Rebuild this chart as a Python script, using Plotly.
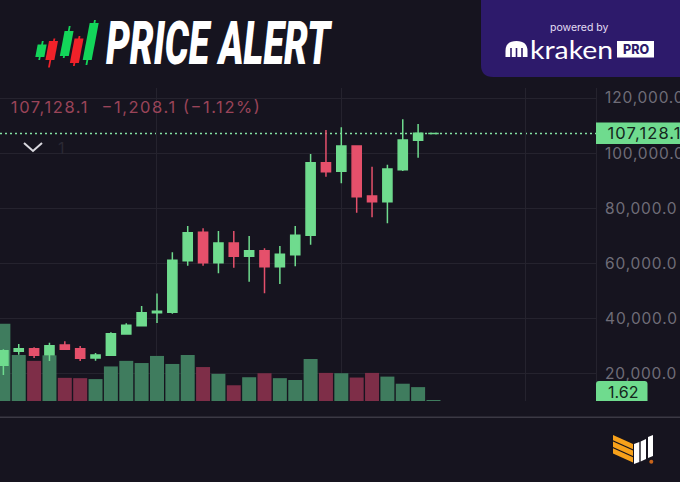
import plotly.graph_objects as go

W, H = 680, 482
BG = "#16141F"
GREEN = "#6FDB8E"
RED = "#E5506B"
VGREEN = "#3F7C5E"
VRED = "#7E2E48"
GRID = "#25232E"

# Candles (price), oldest first
opens = [22970, 28050, 29000, 26820, 30340, 29000, 25620, 26600, 34330, 37345, 42060, 42210, 60940, 71250, 60210,
         67365, 62540, 64570, 58760, 63120, 70160, 96510, 93390, 102580, 84420, 82360, 93970, 104645, 107100]
closes = [28270, 28996, 26600, 30085, 28780, 25510, 26710, 34440, 37490, 42060, 42570, 61085, 71100, 60210, 67365,
          62540, 64570, 58760, 63260, 70160, 96510, 93250, 102580, 84170, 82360, 94230, 104750, 107190, 107128.1]
highs = [28780, 30700, 29500, 31170, 31680, 29980, 27435, 34950, 38216, 44500, 49030, 63990, 73540, 72700, 71720,
         71720, 69900, 65440, 66280, 73540, 99670, 108380, 109360, 102690, 95060, 95790, 112270, 110560, 107128.1]
lows = [19450, 26820, 25620, 24530, 28700, 24530, 24640, 26350, 34080, 37240, 38325, 41700, 59125, 59125, 56366,
        58400, 53320, 49100, 52480, 58900, 66750, 91430, 89040, 78360, 76690, 74520, 93500, 98330, 107100]
volumes = [125, 74.5, 65, 74, 37.5, 37, 35.5, 56, 65, 61.5, 73, 60, 74.5, 55, 44, 25.5, 38.5, 45, 37, 34, 68,
           45.5, 45, 38, 45.5, 39.5, 28, 22.5, 1.62]
vol_up = [1, 1, 0, 1, 0, 0, 1, 1, 1, 1, 1, 1, 1, 0, 1, 0, 1, 0, 1, 1, 1, 0, 1, 0, 0, 1, 1, 1, 1]
candle_index = list(range(len(opens)))
price_ticks = [20000, 40000, 60000, 80000, 100000, 120000]
time_ticks = [10, 22, 34]
last_price = 107128.1
last_volume = 1.62
TITLE = "PRICE ALERT"
QUOTE = "107,128.1\u00a0\u00a0−1,208.1 (−1.12%)"
BRAND = "kraken"
PRICE_TAG = f"{last_price:,.1f}"
VOLUME_TAG = f"{last_volume:.2f}"


def fx(x):
    return x / W


def fy(y):
    return 1 - y / H


def poly(points, color):
    d = "M" + " L".join(f"{fx(x):.5f},{fy(y):.5f}" for x, y in points) + " Z"
    return dict(type="path", xref="paper", yref="paper", path=d, fillcolor=color, line=dict(width=0), layer="above")


def rect(x0, y0, x1, y1, color):
    return poly([(x0, y0), (x1, y0), (x1, y1), (x0, y1)], color)


def hline(x0, x1, y, color, width=1):
    return dict(type="line", xref="paper", yref="paper", x0=fx(x0), x1=fx(x1), y0=fy(y), y1=fy(y),
                line=dict(color=color, width=width), layer="above")


def vline(x, y0, y1, color, width=1):
    return dict(type="line", xref="paper", yref="paper", x0=fx(x), x1=fx(x), y0=fy(y0), y1=fy(y1),
                line=dict(color=color, width=width), layer="above")


def text(x, y, s, size, color, family="Inter", weight=400, style="normal"):
    return dict(xref="paper", yref="paper", x=fx(x), y=fy(y), text=s, showarrow=False, xanchor="center", yanchor="middle",
                font=dict(size=size, color=color, family=family, weight=weight, style=style))


fig = go.Figure()
fig.add_trace(go.Bar(x=candle_index, y=volumes, marker=dict(color=[VGREEN if u else VRED for u in vol_up], line=dict(width=0)),
                     xaxis="x", yaxis="y", showlegend=False))
fig.add_trace(go.Candlestick(x=candle_index, open=opens, high=highs, low=lows, close=closes, xaxis="x", yaxis="y2",
                             showlegend=False, whiskerwidth=0,
                             increasing=dict(line=dict(color=GREEN, width=1.5), fillcolor=GREEN),
                             decreasing=dict(line=dict(color=RED, width=1.5), fillcolor=RED)))

shapes = []
shapes.append(dict(type="line", xref="paper", yref="y2", x0=0, x1=fx(596), y0=last_price, y1=last_price,
                   line=dict(color="#84E0A3", width=1.5, dash="2px,3px"), layer="below"))
shapes.append(hline(0, W, 417.3, "#3B3944", 1.5))

r = 12
panel = f"M{fx(481):.5f},{fy(0):.5f} L{fx(481):.5f},{fy(77 - r):.5f} Q{fx(481):.5f},{fy(77):.5f} {fx(481 + r):.5f},{fy(77):.5f} L{fx(680):.5f},{fy(77):.5f} L{fx(680):.5f},{fy(0):.5f} Z"
shapes.append(dict(type="path", xref="paper", yref="paper", path=panel, fillcolor="#2D1A6B", line=dict(width=0), layer="above"))
dome = f"M{fx(505.5):.5f},{fy(57):.5f} L{fx(505.5):.5f},{fy(51):.5f} Q{fx(505.5):.5f},{fy(41):.5f} {fx(516.5):.5f},{fy(41):.5f} Q{fx(527.5):.5f},{fy(41):.5f} {fx(527.5):.5f},{fy(51):.5f} L{fx(527.5):.5f},{fy(57):.5f} Z"
shapes.append(dict(type="path", xref="paper", yref="paper", path=dome, fillcolor="#FFFFFF", line=dict(width=0), layer="above"))
for sx in (511, 516.5, 522):
    shapes.append(vline(sx, 48, 57.5, "#2D1A6B", 1.6))
shapes.append(rect(617, 41, 654, 57.5, "#FFFFFF"))


def slanted(cx, top, bottom, w, color):
    k = 0.19
    mid = (top + bottom) / 2
    return poly([(cx - w / 2 + (mid - top) * k, top), (cx + w / 2 + (mid - top) * k, top),
                 (cx + w / 2 - (bottom - mid) * k, bottom), (cx - w / 2 - (bottom - mid) * k, bottom)], color)


for cx, t, b, wt, wb, col in [(41, 44.5, 57, 41, 60, "#13D65A"), (51.7, 41, 60, 38.5, 67.5, "#F0222A"),
                              (66.7, 31, 56, 26, 58, "#13D65A"), (76.7, 38.5, 63, 36, 66, "#F0222A"),
                              (90.7, 23, 60, 20, 65, "#13D65A")]:
    shapes.append(slanted(cx, t, b, 9, col))
    shapes.append(slanted(cx, wt, wb, 1.8, col))

ORANGE = "#F7A11A"
for off in (0, 6.6, 13.2):
    shapes.append(poly([(613, 435 + off), (633, 444 + off), (633, 449.3 + off), (613, 440.3 + off)], ORANGE))
for x0, x1, t0, t1, b0, b1 in [(634, 639.3, 444, 442, 464, 462), (640.7, 646, 441.5, 439, 461.5, 459),
                               (648, 653, 437, 435, 458, 456)]:
    shapes.append(poly([(x0, t0), (x1, t1), (x1, b1), (x0, b0)], "#FFFFFF"))
shapes.append(dict(type="circle", xref="paper", yref="paper", x0=fx(649.3), x1=fx(653.3), y0=fy(463.7), y1=fy(459.7),
                   fillcolor="#C8641A", line=dict(width=0), layer="above"))

chev = f"M{fx(24):.5f},{fy(143):.5f} L{fx(33):.5f},{fy(151):.5f} L{fx(42):.5f},{fy(143):.5f}"
shapes.append(dict(type="path", xref="paper", yref="paper", path=chev, line=dict(color="#D9D8DE", width=2), layer="above"))

shapes.append(dict(type="rect", xref="paper", yref="paper", x0=fx(596), x1=fx(680), y0=fy(144), y1=fy(122.5),
                   fillcolor=GREEN, line=dict(width=0), layer="above"))
tag = f"M{fx(596):.5f},{fy(401):.5f} L{fx(596):.5f},{fy(384):.5f} Q{fx(596):.5f},{fy(381):.5f} {fx(599):.5f},{fy(381):.5f} L{fx(644.5):.5f},{fy(381):.5f} Q{fx(647.5):.5f},{fy(381):.5f} {fx(647.5):.5f},{fy(384):.5f} L{fx(647.5):.5f},{fy(401):.5f} Z"
shapes.append(dict(type="path", xref="paper", yref="paper", path=tag, fillcolor=GREEN, line=dict(width=0), layer="above"))

annotations = [
    text(220, 43, TITLE, 60, "#FFFFFF", family="Roboto", weight=900, style="italic"),
    text(135.5, 107.5, QUOTE, 16.5, "#9A4459"),
    text(61, 148, "1", 16, "#2B2934"),
    text(579, 27, "powered by", 10.5, "#E4DFF5"),
    text(571, 49, BRAND, 25, "#FFFFFF", family="Lato", weight=400),
    text(635.5, 49.5, "PRO", 12.5, "#2D1A6B", weight=800),
    text(644, 133, PRICE_TAG, 16.5, "#14271D"),
    text(622.8, 391.5, VOLUME_TAG, 16, "#14271D"),
]

fig.update_layout(
    width=W, height=H, margin=dict(l=0, r=0, t=0, b=0, pad=0),
    paper_bgcolor=BG, plot_bgcolor=BG, bargap=0.09, boxgap=0.15,
    showlegend=False, shapes=shapes, annotations=annotations,
    xaxis=dict(domain=[0, fx(596)], range=[-0.22, 38.58], tickvals=time_ticks, showticklabels=False, ticks="",
               showgrid=True, gridcolor=GRID, gridwidth=1, zeroline=False, rangeslider=dict(visible=False),
               anchor="y", type="linear"),
    yaxis=dict(domain=[fy(401), fy(88)], range=[0, 507], showgrid=False, zeroline=False, showticklabels=False, ticks="",
               anchor="x"),
    yaxis2=dict(domain=[fy(401), fy(88)], overlaying="y", side="right", anchor="x", range=[10018, 123630],
                tickvals=price_ticks, tickformat=",.1f", showgrid=True, gridcolor=GRID, gridwidth=1, zeroline=False,
                showline=True, linecolor=GRID, linewidth=1, ticks="outside", ticklen=5, tickcolor="rgba(0,0,0,0)",
                tickfont=dict(family="Inter", size=15.5, color="#6F6D78")),
)

# Fit the real text elements to the widths they have in the picture
fit_js = """
document.body.style.margin = '0';
var fits = {'%s': [224, 'spacingAndGlyphs'], '%s': [249, 'spacing'], '%s': [83, 'spacingAndGlyphs'],
            '%s': [73, 'spacing'], '%s': [30.5, 'spacing']};
document.querySelectorAll('.annotation-text').forEach(function (t) {
  var f = fits[t.textContent];
  if (f) { t.setAttribute('textLength', f[0]); t.setAttribute('lengthAdjust', f[1]); }
});
document.querySelectorAll('.ytick text, .y2tick text').forEach(function (t) { t.style.letterSpacing = '0.8px'; });
""" % (TITLE, QUOTE, BRAND, PRICE_TAG, VOLUME_TAG)

fig.write_html("out.html", post_script=fit_js, config=dict(displayModeBar=False, staticPlot=True))
